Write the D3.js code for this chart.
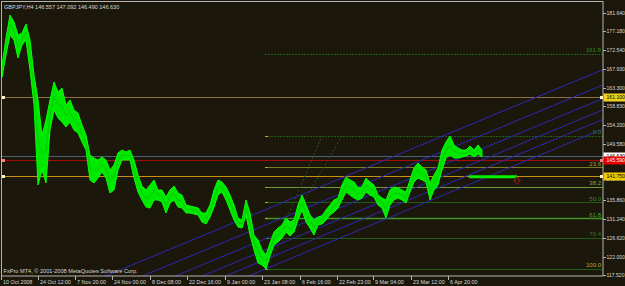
<!DOCTYPE html>
<html><head><meta charset="utf-8">
<script src="https://cdn.jsdelivr.net/npm/d3@7"></script>
<style>html,body{margin:0;padding:0;background:#1c170b;overflow:hidden}</style>
</head><body><svg id="c" width="625" height="286"></svg>
<script>
// ---------- DATA ----------
const headerText = "GBPJPY,H4  146.557 147.092 146.490 146.630";
const copyrightText = "FxPro MT4, \u00A9 2001-2008 MetaQuotes Software Corp.";

// H4 price band (one entry per ~4 bars), highs and lows
const highs = [168.91,175.52,181.15,179.44,176.26,176.74,178.95,175.03,166.47,160.35,151.78,155.45,160.35,164.75,162.31,163.28,159.12,160.35,157.90,157.16,154.23,151.78,146.89,146.15,145.66,146.40,145.66,143.22,144.44,147.38,148.11,147.62,148.11,145.66,141.99,139.30,138.32,139.54,140.77,138.32,138.32,136.61,138.32,139.30,137.59,137.10,134.65,134.40,134.16,133.91,132.69,132.69,134.65,138.32,140.77,140.28,139.06,137.10,134.65,131.47,130.98,135.87,132.69,127.31,126.08,123.64,122.41,125.35,128.04,129.02,129.76,131.47,130.49,130.98,134.65,137.10,134.65,132.20,130.98,131.71,131.96,133.43,134.65,135.87,136.36,139.54,141.50,140.77,140.28,138.81,139.06,141.26,140.28,139.54,137.10,136.36,135.87,138.32,139.06,138.81,138.32,137.83,140.77,143.71,144.93,143.95,143.22,140.03,141.99,143.71,148.11,150.07,151.54,149.33,148.60,148.11,148.11,149.09,148.11,149.33,148.11];
const lows  = [165.98,171.36,176.26,175.03,170.63,173.81,175.03,167.69,159.12,139.54,143.22,140.03,153.01,157.90,155.94,154.96,153.74,154.96,153.01,152.27,150.07,148.11,140.77,140.03,141.26,142.73,141.26,137.59,138.32,143.22,145.66,145.66,145.66,141.26,137.83,135.87,134.16,133.91,135.87,135.87,135.38,132.69,135.14,135.87,134.16,133.91,132.69,132.69,132.45,132.20,130.49,130.00,131.71,134.16,137.10,137.83,135.87,133.43,130.98,129.27,129.02,132.20,127.31,123.64,120.45,119.97,118.99,122.17,124.86,125.60,126.57,128.04,127.06,128.04,130.98,133.43,130.49,129.02,127.31,129.76,130.00,130.98,132.20,132.94,133.91,135.87,137.83,137.10,136.36,135.87,136.36,137.83,137.10,136.61,134.65,133.91,131.47,134.65,135.87,136.36,135.87,135.14,137.83,140.28,141.26,140.77,140.28,135.87,138.32,139.54,143.22,146.15,146.89,146.15,146.15,146.40,146.64,147.13,146.40,147.13,146.40];

// time axis (bar units of the band above)
const timeTickBars = [-0.25, 8.93, 18.25, 27.5, 37, 46.25, 55.75, 65, 74.5, 83.68, 92.75, 102.18, 111.5];
const timeTickLabels = ["10 Oct 2008","24 Oct 12:00","7 Nov 20:00","24 Nov 00:00","8 Dec 08:00","22 Dec 16:00","9 Jan 00:00","23 Jan 08:00","6 Feb 16:00","22 Feb 23:00","9 Mar 04:00","23 Mar 12:00","6 Apr 20:00"];

// price axis
const priceTicks = [181.640,177.180,172.540,167.930,163.300,158.830,154.200,149.580,140.940,135.860,131.240,126.620,122.000,117.520];

// horizontal price lines
const hLinePrices = [161.08, 146.63, 145.59, 141.72];
const hLineLabels = ["161.100", "146.630", "145.590", "141.750"];

// Fibonacci retracement
const fibStartBar = 65.75;
const fibPrice0 = 151.54;   // top level
const fibPrice100 = 118.99; // bottom level (the low)
const fibLevels = [161.8, 0, 23.6, 38.2, 50, 61.8, 76.4, 100];
const fibLabels = ["161.8", "0.0", "23.6", "38.2", "50.0", "61.8", "76.4", "100.0"];

// parallel blue trend lines (two points each: bar, price)
const chanBar1 = [29.5, 38.75, 47, 53.75, 59.5, 65.25];
const chanPrice1 = [118.75, 118.75, 118.75, 118.75, 118.75, 118.75];
const chanBar2 = [150.25, 150.25, 150.25, 150.25, 150.25, 150.25];
const chanPrice2 = [167.79, 164.04, 160.69, 157.95, 155.60, 153.28];

// dotted fan lines from the low
const fanBar1 = [65.75, 65.75];
const fanPrice1 = [118.99, 118.99];
const fanBar2 = [80, 85];
const fanPrice2 = [151.54, 151.54];

// green marker segment and arrow
const segBars = [116.75, 128.75];
const segPrice = 141.55;
const arrowBar = 128.75;
const arrowPrice = 140.9;

// ---------- STYLES ----------
const BG = "#1c170b";
const FRAME = "#b4b4b4";
const TXT = "#d8d8d8";
const FONT = "Liberation Sans, Arial, sans-serif";
const hLineColors = ["#8c6e3c", "#4b6078", "#a00c0c", "#c8900c"];
const hBoxFill = ["#f0d020", "#ffffff", "#e80000", "#f0c800"];
const hBoxText = ["#000", "#000", "#fff", "#000"];
const fibLineColors = ["#1f5e14", "#1f5e14", "#7c7c22", "#6e9a38", "#245c16", "#3e9626", "#205c14", "#1f5e14"];
const fibTextColors = ["#2f8a26", "#2f8a26", "#a0a02a", "#7cae3a", "#3b8a28", "#4ea02e", "#2e7a20", "#b4b41e"];
const fibDash = ["2,1", "2,1", null, null, null, null, null, null];

// ---------- LAYOUT ----------
const L = 2, R = 603, T = 2, B = 276;
const svg = d3.select("#c");
svg.append("rect").attr("width", 625).attr("height", 286).attr("fill", BG);

const x = d3.scaleLinear().domain([0, 150.25]).range([2, 603]);
const y = d3.scaleLinear().domain([117.52, 181.64]).range([275, 13]);

svg.append("clipPath").attr("id", "plot").append("rect")
  .attr("x", L).attr("y", T).attr("width", R - L).attr("height", B - T);
const g = svg.append("g").attr("clip-path", "url(#plot)");

// fib levels: 0 at top, 100 at the low, 161.8 above the top
const fibY = l => l > 100
  ? y(fibPrice0 + (fibPrice0 - fibPrice100) * (l - 100) / 100)
  : y(fibPrice100 + (fibPrice0 - fibPrice100) * (1 - l / 100));
fibLevels.forEach((l, i) => {
  const yy = Math.round(fibY(l)) + 0.5;
  g.append("line").attr("x1", x(fibStartBar)).attr("x2", R).attr("y1", yy).attr("y2", yy)
    .attr("stroke", fibLineColors[i]).attr("stroke-width", i === 5 ? 1.5 : 1)
    .attr("stroke-dasharray", fibDash[i]);
  if (i > 0) g.append("line").attr("x1", x(fibStartBar)).attr("x2", x(fibStartBar) + 3)
    .attr("y1", yy).attr("y2", yy).attr("stroke", "#b8a818").attr("stroke-width", 1);
});

// horizontal lines
hLinePrices.forEach((p, i) => {
  const yy = Math.round(y(p)) + 0.5;
  g.append("line").attr("x1", L).attr("x2", R).attr("y1", yy).attr("y2", yy)
    .attr("stroke", hLineColors[i]).attr("stroke-width", 1);
});

// fan lines (dotted)
fanBar1.forEach((b, i) => {
  g.append("line").attr("x1", x(b)).attr("y1", y(fanPrice1[i]))
    .attr("x2", x(fanBar2[i])).attr("y2", y(fanPrice2[i]))
    .attr("stroke", "#1e5a12").attr("stroke-width", 1).attr("stroke-dasharray", "2,2");
});

// blue channel lines (extended across)
chanBar1.forEach((b, i) => {
  const s = (chanPrice2[i] - chanPrice1[i]) / (chanBar2[i] - b);
  const b0 = -20, b1 = 151;
  g.append("line")
    .attr("x1", x(b0)).attr("y1", y(chanPrice1[i] + s * (b0 - b)))
    .attr("x2", x(b1)).attr("y2", y(chanPrice1[i] + s * (b1 - b)))
    .attr("stroke", "#2a2ab4").attr("stroke-width", 1);
});

// price band
const band = highs.map((h, i) => ({i, h, l: lows[i]}));
const area = d3.area().x(d => x(d.i)).y0(d => y(d.l)).y1(d => y(d.h));
g.append("path").datum(band).attr("d", area)
  .attr("fill", "#00e800").attr("stroke", "#00ff00").attr("stroke-width", 1);
g.append("path").datum(band)
  .attr("d", d3.line().x(d => x(d.i)).y(d => y((d.h + d.l) / 2)))
  .attr("fill", "none").attr("stroke", "#00b400").attr("stroke-width", 0.8).attr("opacity", 0.7);

// green segment + arrow
g.append("line").attr("x1", x(segBars[0])).attr("x2", x(segBars[1]))
  .attr("y1", y(segPrice)).attr("y2", y(segPrice))
  .attr("stroke", "#00f000").attr("stroke-width", 3);
const ax = x(arrowBar), ay = y(arrowPrice);
g.append("path")
  .attr("d", `M${ax-1.5},${ay-2} L${ax+1.5},${ay-2} L${ax+1.5},${ay+1} L${ax+3.5},${ay+1} L${ax},${ay+5} L${ax-3.5},${ay+1} L${ax-1.5},${ay+1} Z`)
  .attr("fill", "none").attr("stroke", "#a01818").attr("stroke-width", 1);

// fib labels
fibLevels.forEach((l, i) => {
  svg.append("text").attr("x", R - 2).attr("y", fibY(l) - 1.5)
    .attr("text-anchor", "end").attr("font-family", FONT)
    .attr("font-size", 6).attr("fill", fibTextColors[i]).text(fibLabels[i]);
});

// frame
svg.append("rect").attr("x", 1.5).attr("y", 1.5).attr("width", R - 1.5).attr("height", B - 1.5)
  .attr("fill", "none").attr("stroke", FRAME).attr("stroke-width", 1);

// price axis ticks & labels
priceTicks.forEach(p => {
  const yy = Math.round(y(p)) + 0.5;
  svg.append("line").attr("x1", R).attr("x2", R + 3).attr("y1", yy).attr("y2", yy).attr("stroke", FRAME);
  svg.append("text").attr("x", R + 3.5).attr("y", yy + 1.9)
    .attr("font-family", FONT).attr("font-size", 5.1)
    .attr("fill", TXT).text(p.toFixed(3));
});

// price line labels (boxes)
hLinePrices.forEach((p, i) => {
  const yy = Math.round(y(p)) + 0.5;
  svg.append("rect").attr("x", R + 0.5).attr("y", yy - 4).attr("width", 21.5).attr("height", 8)
    .attr("fill", hBoxFill[i]);
  svg.append("text").attr("x", R + 3.5).attr("y", yy + 1.9)
    .attr("font-family", FONT).attr("font-size", 5.1)
    .attr("fill", hBoxText[i]).text(hLineLabels[i]);
  if (i !== 1) {
    svg.append("rect").attr("x", R - 3).attr("y", yy - 1.5).attr("width", 3).attr("height", 3)
      .attr("fill", i === 2 ? "#ff8080" : "#fff4c0");
    svg.append("rect").attr("x", L).attr("y", yy - 1.5).attr("width", 3).attr("height", 3)
      .attr("fill", i === 2 ? "#ff8080" : "#fff4c0");
  }
});

// time axis
timeTickBars.forEach((b, i) => {
  const xx = Math.round(x(b)) + 0.5;
  svg.append("line").attr("x1", xx).attr("x2", xx).attr("y1", B).attr("y2", B + 4).attr("stroke", FRAME);
  svg.append("text").attr("x", xx + 1.5).attr("y", 283.5)
    .attr("font-family", FONT).attr("font-size", 5.4)
    .attr("fill", TXT).text(timeTickLabels[i]);
});

// header & copyright
svg.append("text").attr("x", 4).attr("y", 8.6)
  .attr("font-family", FONT).attr("font-size", 5.5)
  .attr("fill", TXT).text(headerText);
svg.append("text").attr("x", 3.5).attr("y", 273)
  .attr("font-family", FONT).attr("font-size", 5.6)
  .attr("fill", TXT).text(copyrightText);
</script>
</body></html>
